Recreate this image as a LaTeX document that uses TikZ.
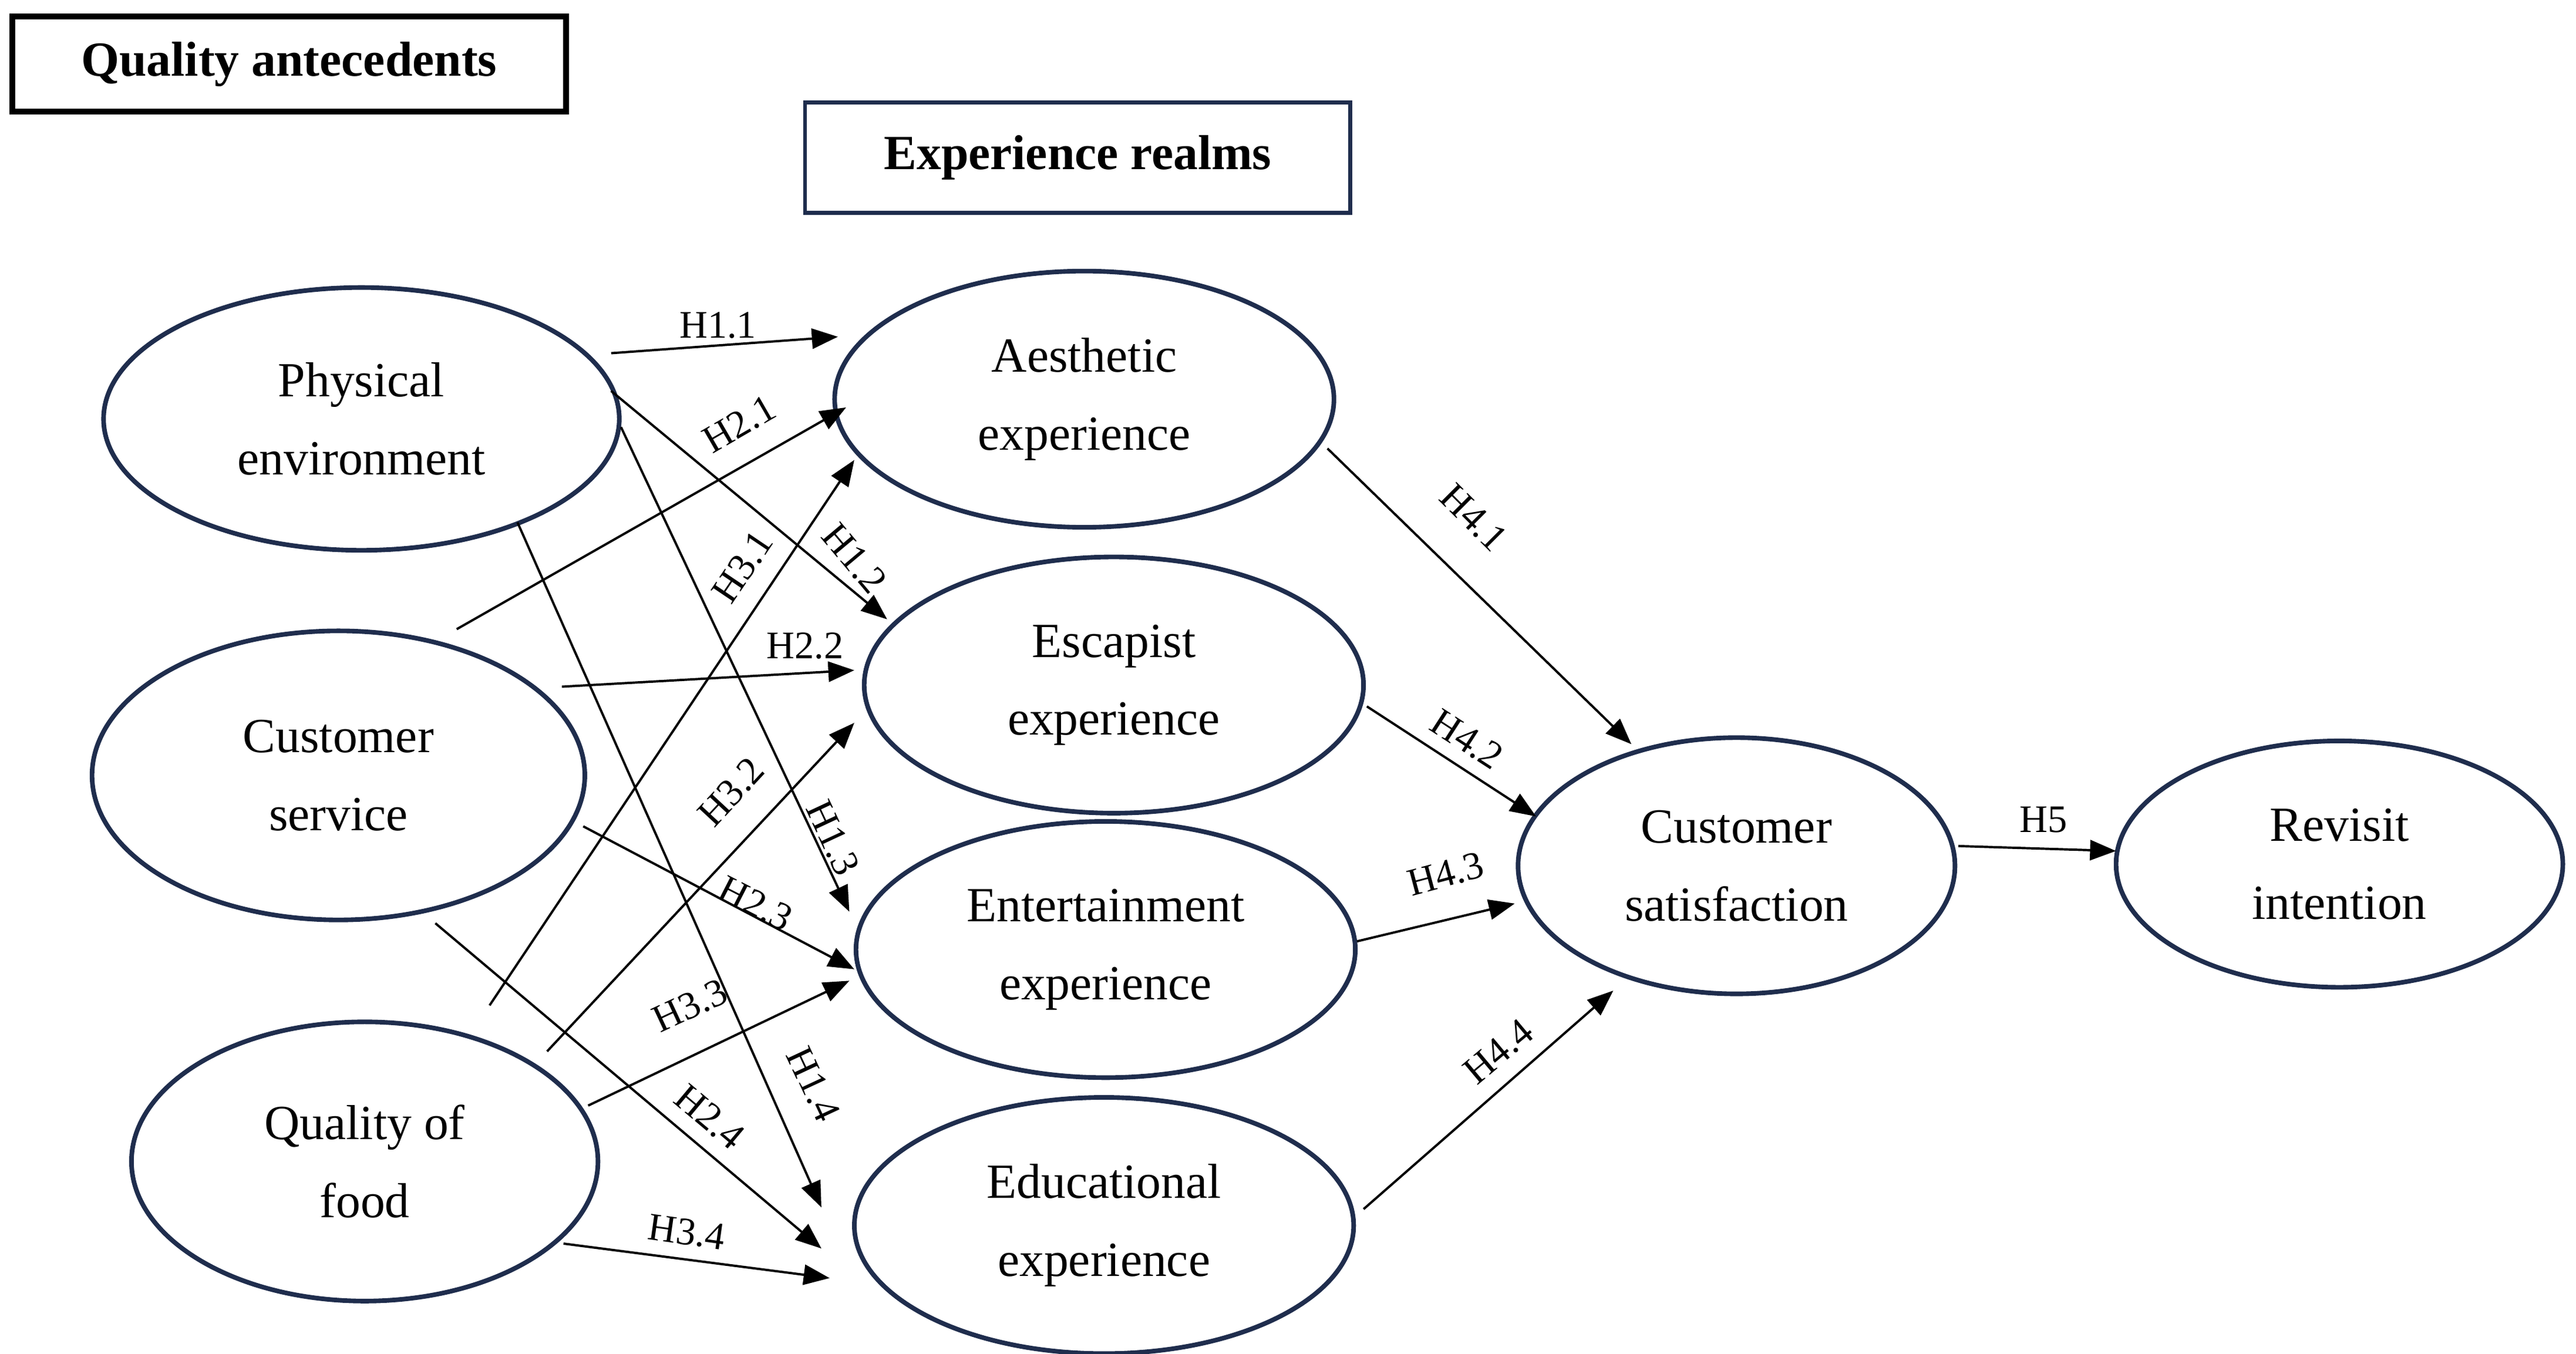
\documentclass[tikz,border=0pt]{standalone}
\usepackage{fontspec}
\setmainfont{Liberation Serif}
\usetikzlibrary{arrows.meta,shapes.geometric}
\definecolor{navy}{HTML}{1F2D4D}
\begin{document}
\begin{tikzpicture}[x=0.02cm,y=-0.02cm,
  ell/.style={ellipse,draw=navy,line width=1.6pt,inner sep=0pt,font=\fontsize{17}{27}\selectfont,align=center},
  arr/.style={-{Triangle[length=9pt,width=7pt]},line width=0.8pt},
  lab/.style={font=\fontsize{13.5}{14}\selectfont,inner sep=0pt}]
\useasboundingbox (0,0) rectangle (1568,824);
\node[draw=black,line width=2pt,inner sep=0pt,font=\bfseries\fontsize{17}{18}\selectfont,minimum width=6.74cm,minimum height=1.16cm] (qa) at (176,39) {Quality antecedents};
\node[draw=navy,line width=1.4pt,inner sep=0pt,font=\bfseries\fontsize{17}{18}\selectfont,minimum width=6.64cm,minimum height=1.34cm] (er) at (656,96) {Experience realms};
\node[ell,minimum width=6.28cm,minimum height=3.2cm] (pe) at (220,255) {Physical\\environment};
\node[ell,minimum width=6.0cm,minimum height=3.52cm] (cs) at (206,472) {Customer\\service};
\node[ell,minimum width=5.68cm,minimum height=3.4cm] (qf) at (222,707) {Quality of\\food};
\node[ell,minimum width=6.08cm,minimum height=3.12cm] (ae) at (660,243) {Aesthetic\\experience};
\node[ell,minimum width=6.08cm,minimum height=3.12cm] (ee) at (678,417) {Escapist\\experience};
\node[ell,minimum width=6.08cm,minimum height=3.12cm] (en) at (673,578) {Entertainment\\experience};
\node[ell,minimum width=6.08cm,minimum height=3.12cm] (ed) at (672,746) {Educational\\experience};
\node[ell,minimum width=5.32cm,minimum height=3.12cm] (sat) at (1057,527) {Customer\\satisfaction};
\node[ell,minimum width=5.44cm,minimum height=3.0cm] (ri) at (1424,526) {Revisit\\intention};
\draw[arr] (372,215) -- (510,205);
\draw[arr] (372,238) -- (540,377);
\draw[arr] (378,260) -- (517,555);
\draw[arr] (315,318) -- (500,735);
\draw[arr] (278,383) -- (515,248);
\draw[arr] (342,418) -- (520,408);
\draw[arr] (355,503) -- (520,590);
\draw[arr] (265,562) -- (500,760);
\draw[arr] (298,612) -- (520,280);
\draw[arr] (333,640) -- (520,440);
\draw[arr] (358,673) -- (517,597);
\draw[arr] (343,757) -- (505,778);
\draw[arr] (808,273) -- (993,453);
\draw[arr] (832,430) -- (935,497);
\draw[arr] (826,573) -- (922,550);
\draw[arr] (830,736) -- (982,603);
\draw[arr] (1192,515) -- (1288,518);
\node[lab] (l11) at (437,198) {H1.1};
\node[lab,rotate=-50] (l12) at (520,340) {H1.2};
\node[lab,rotate=-65] (l13) at (507,510) {H1.3};
\node[lab,rotate=-65] (l14) at (495,660) {H1.4};
\node[lab,rotate=30] (l21) at (450,258) {H2.1};
\node[lab] (l22) at (490,393) {H2.2};
\node[lab,rotate=-27] (l23) at (460,550) {H2.3};
\node[lab,rotate=-40] (l24) at (432,680) {H2.4};
\node[lab,rotate=56] (l31) at (452,345) {H3.1};
\node[lab,rotate=47] (l32) at (445,482) {H3.2};
\node[lab,rotate=25] (l33) at (420,612) {H3.3};
\node[lab,rotate=-8] (l34) at (418,750) {H3.4};
\node[lab,rotate=-45] (l41) at (897,315) {H4.1};
\node[lab,rotate=-33] (l42) at (893,450) {H4.2};
\node[lab,rotate=15] (l43) at (880,532) {H4.3};
\node[lab,rotate=40] (l44) at (912,640) {H4.4};
\node[lab] (l5) at (1244,499) {H5};
\end{tikzpicture}
\end{document}
